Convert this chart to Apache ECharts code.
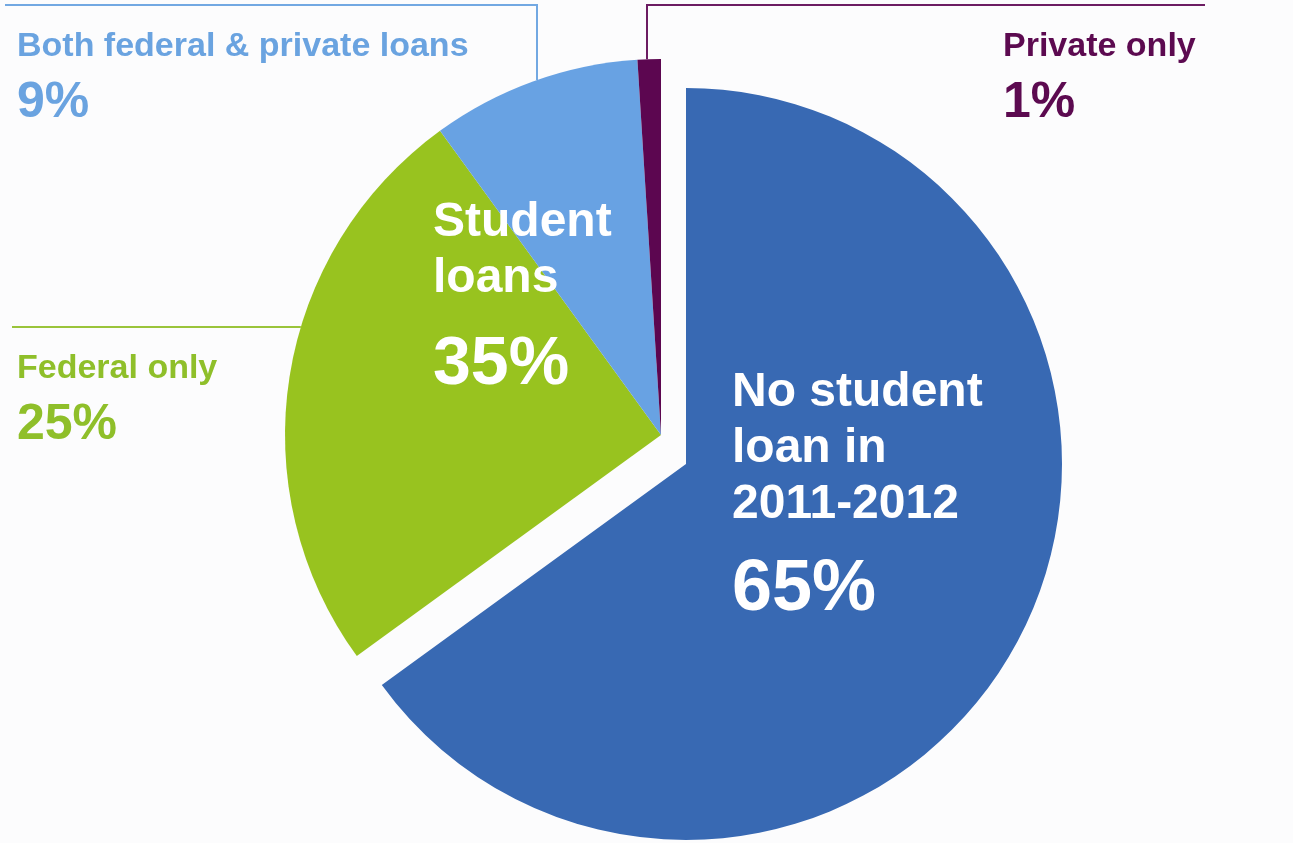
<!DOCTYPE html>
<html>
<head>
<meta charset="utf-8">
<script src="https://cdn.jsdelivr.net/npm/echarts@6/dist/echarts.min.js"></script>
<style>
html,body{margin:0;padding:0;background:#fcfcfd;}
#c{width:1293px;height:843px;}
</style>
</head>
<body>
<div id="c"></div>
<script>
// ---- data ----
const categories = ['No student\nloan in\n2011-2012', 'Federal only', 'Both federal & private loans', 'Private only'];
const values = [65, 25, 9, 1];
const groupTitle = 'Student\nloans';

// ---- styles ----
const sliceColors = ['#3869b3', '#98c31f', '#68a2e3', '#5c0650'];
const textColors  = ['#ffffff', '#8fbf2a', '#6aa3e0', '#5c0a50'];
const lineColors  = ['#3869b3', '#9ac43a', '#72a8e2', '#6c1c62'];
const FONT = "'Liberation Sans', Arial, sans-serif";

const R = 376;
const CENTER_REST = [661, 435];
const CENTER_MAIN = [686, 464];

const loanShare = values.slice(1).reduce((a, b) => a + b, 0);

function edgeXAtY(y) {
  return CENTER_REST[0] - Math.sqrt(R * R - Math.pow(y - CENTER_REST[1], 2));
}
function edgeYAtX(x) {
  return CENTER_REST[1] - Math.sqrt(R * R - Math.pow(x - CENTER_REST[0], 2));
}

const outerRich = {
  n: { fontSize: 34, fontWeight: 'bold', lineHeight: 44, fontFamily: FONT },
  v: { fontSize: 50, fontWeight: 'bold', lineHeight: 68, fontFamily: FONT }
};

const restData = values.map((v, i) => ({
  name: categories[i],
  value: v,
  itemStyle: { color: i === 0 ? 'rgba(0,0,0,0)' : sliceColors[i] },
  label: { show: i !== 0, color: textColors[i] },
  labelLine: { show: i !== 0, lineStyle: { color: lineColors[i], width: 2 } }
}));

const mainData = values.map((v, i) => ({
  name: categories[i],
  value: v,
  itemStyle: { color: i === 0 ? sliceColors[0] : 'rgba(0,0,0,0)' },
  label: { show: i === 0 },
  labelLine: { show: false }
}));

const chart = echarts.init(document.getElementById('c'), null, { renderer: 'canvas' });

chart.setOption({
  backgroundColor: '#fcfcfd',
  animation: false,
  title: {
    text: groupTitle,
    subtext: loanShare + '%',
    left: 433,
    top: 195,
    padding: 0,
    itemGap: 18,
    textStyle: { color: '#ffffff', fontSize: 48, fontWeight: 'bold', lineHeight: 56, fontFamily: FONT },
    subtextStyle: { color: '#ffffff', fontSize: 68, fontWeight: 'bold', lineHeight: 80, fontFamily: FONT }
  },
  series: [
    {
      type: 'pie',
      silent: true,
      center: CENTER_REST,
      radius: [0, R],
      startAngle: 90,
      clockwise: true,
      avoidLabelOverlap: false,
      data: restData,
      label: {
        show: true,
        position: 'outside',
        fontFamily: FONT,
        formatter: p => `{n|${p.name}}\n{v|${p.value}%}`,
        rich: outerRich
      },
      labelLine: { show: true, length: 10, length2: 10, smooth: false },
      labelLayout: function (p) {
        const i = p.dataIndex;
        if (i === 1) {
          const y = 327;
          return {
            x: 17, y: 347, align: 'left', verticalAlign: 'top',
            labelLinePoints: [[edgeXAtY(y), y], [160, y], [12, y]]
          };
        }
        if (i === 2) {
          const x = 537;
          return {
            x: 17, y: 25, align: 'left', verticalAlign: 'top',
            labelLinePoints: [[x, edgeYAtX(x)], [x, 5], [5, 5]]
          };
        }
        if (i === 3) {
          const x = 647;
          return {
            x: 1003, y: 25, align: 'left', verticalAlign: 'top',
            labelLinePoints: [[x, edgeYAtX(x)], [x, 5], [1205, 5]]
          };
        }
        return {};
      }
    },
    {
      type: 'pie',
      silent: true,
      center: CENTER_MAIN,
      radius: [0, R],
      startAngle: 90,
      clockwise: true,
      avoidLabelOverlap: false,
      data: mainData,
      label: {
        show: true,
        position: 'inside',
        color: '#ffffff',
        fontFamily: FONT,
        formatter: p => p.name.split('\n').map(s => `{t|${s}}`).join('\n') + `\n{p|${p.value}%}`,
        rich: {
          t: { fontSize: 48, fontWeight: 'bold', lineHeight: 56, color: '#ffffff', fontFamily: FONT },
          p: { fontSize: 72, fontWeight: 'bold', lineHeight: 114, color: '#ffffff', fontFamily: FONT }
        }
      },
      labelLine: { show: false },
      labelLayout: function (p) {
        if (p.dataIndex === 0) {
          return { x: 732, y: 365, align: 'left', verticalAlign: 'top' };
        }
        return {};
      }
    }
  ]
});
</script>
</body>
</html>
